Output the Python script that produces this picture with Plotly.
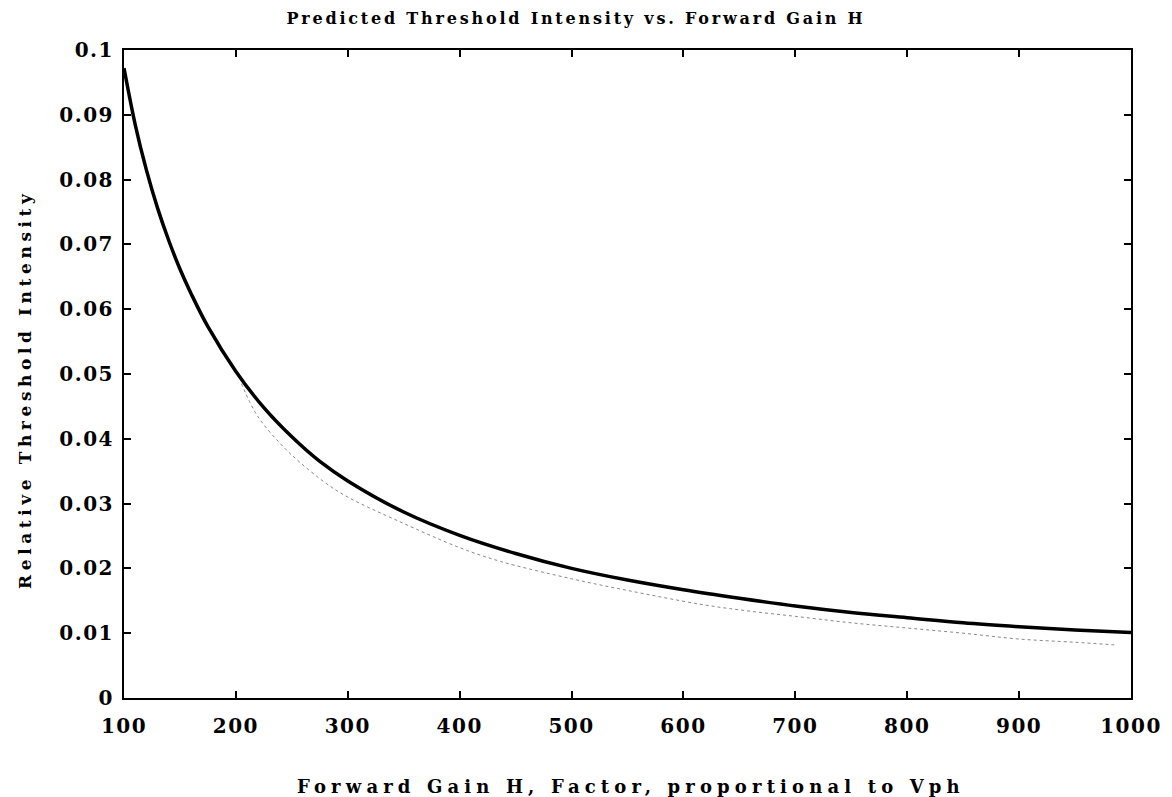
import plotly.graph_objects as go

# Solid curve (predicted threshold)
solid_x = [100, 110, 120, 130, 140, 150, 160, 175, 200, 225, 250, 275, 300, 350, 400,
           450, 500, 550, 600, 650, 700, 750, 800, 850, 900, 950, 1000]
solid_y = [0.0972, 0.0885, 0.0815, 0.0756, 0.0706, 0.0662, 0.0624, 0.0573, 0.0504, 0.0448,
           0.0403, 0.0365, 0.0335, 0.0287, 0.0251, 0.0223, 0.0200, 0.0182, 0.0167, 0.0154,
           0.0142, 0.0132, 0.0124, 0.0116, 0.0110, 0.0105, 0.0101]

# Dotted curve (lower estimate)
dotted_x = [205, 219, 240, 257, 280, 300, 344, 400, 436, 500, 550, 614, 650, 700, 750,
            800, 850, 900, 950, 985]
dotted_y = [0.0485, 0.0436, 0.0392, 0.0364, 0.0332, 0.0310, 0.0274, 0.0232, 0.0211, 0.0184,
            0.0166, 0.0145, 0.0136, 0.0126, 0.0116, 0.0108, 0.0100, 0.0091, 0.0086, 0.0082]

x_ticks = [100, 200, 300, 400, 500, 600, 700, 800, 900, 1000]
y_ticks = [0, 0.01, 0.02, 0.03, 0.04, 0.05, 0.06, 0.07, 0.08, 0.09, 0.1]
y_labels = ["0", "0.01", "0.02", "0.03", "0.04", "0.05", "0.06", "0.07", "0.08", "0.09", "0.1"]

title_text = "Predicted Threshold Intensity vs. Forward Gain H"
x_title = "Forward Gain H, Factor, proportional to Vph"
y_title = "Relative Threshold Intensity"

FONT = "DejaVu Serif"


def spaced(t, px):
    return '<span style="letter-spacing:%spx">%s</span>' % (px, t)


fig = go.Figure()
fig.add_trace(go.Scatter(x=dotted_x, y=dotted_y, mode="lines", line_shape="spline",
                         line=dict(color="#888888", width=1, dash="dot"), showlegend=False))
fig.add_trace(go.Scatter(x=solid_x, y=solid_y, mode="lines", line_shape="spline",
                         line=dict(color="black", width=3.5), showlegend=False))

fig.update_layout(
    width=1172, height=797,
    paper_bgcolor="white", plot_bgcolor="white",
    margin=dict(l=116, r=49, t=42, b=107, autoexpand=False),
    font=dict(family=FONT, color="black", weight="bold"),
    title=dict(text=spaced(title_text, 2.8),
               x=0.4846, xanchor="center", y=0.987, yanchor="middle",
               font=dict(family=FONT, size=16, color="black", weight="bold")),
    xaxis=dict(range=[100, 1000], tickvals=x_ticks,
               ticktext=[spaced(str(v), 1.5) for v in x_ticks],
               ticks="inside", ticklen=7, tickwidth=2, tickcolor="black",
               showline=True, linewidth=2, linecolor="black", mirror="ticks",
               showgrid=False, zeroline=False, automargin=False,
               tickfont=dict(family=FONT, size=20, weight="bold"),
               ticklabelstandoff=9),
    yaxis=dict(range=[0, 0.1], tickvals=y_ticks,
               ticktext=[spaced(t, 1.5) for t in y_labels],
               ticks="inside", ticklen=7, tickwidth=2, tickcolor="black",
               showline=True, linewidth=2, linecolor="black", mirror="ticks",
               showgrid=False, zeroline=False, automargin=False,
               tickfont=dict(family=FONT, size=20, weight="bold"),
               ticklabelstandoff=4),
    annotations=[
        dict(text=spaced(x_title, 5.15), xref="paper", yref="paper", x=0.5, y=0,
             xanchor="center", yanchor="middle", xshift=3, yshift=-88, showarrow=False,
             font=dict(family=FONT, size=18, color="black", weight="bold")),
        dict(text=spaced(y_title, 4.6), xref="paper", yref="paper", x=0, y=0.5,
             xanchor="center", yanchor="middle", xshift=-99, yshift=-15, textangle=-90,
             showarrow=False,
             font=dict(family=FONT, size=17, color="black", weight="bold")),
    ],
)

fig.write_html("out.html")
